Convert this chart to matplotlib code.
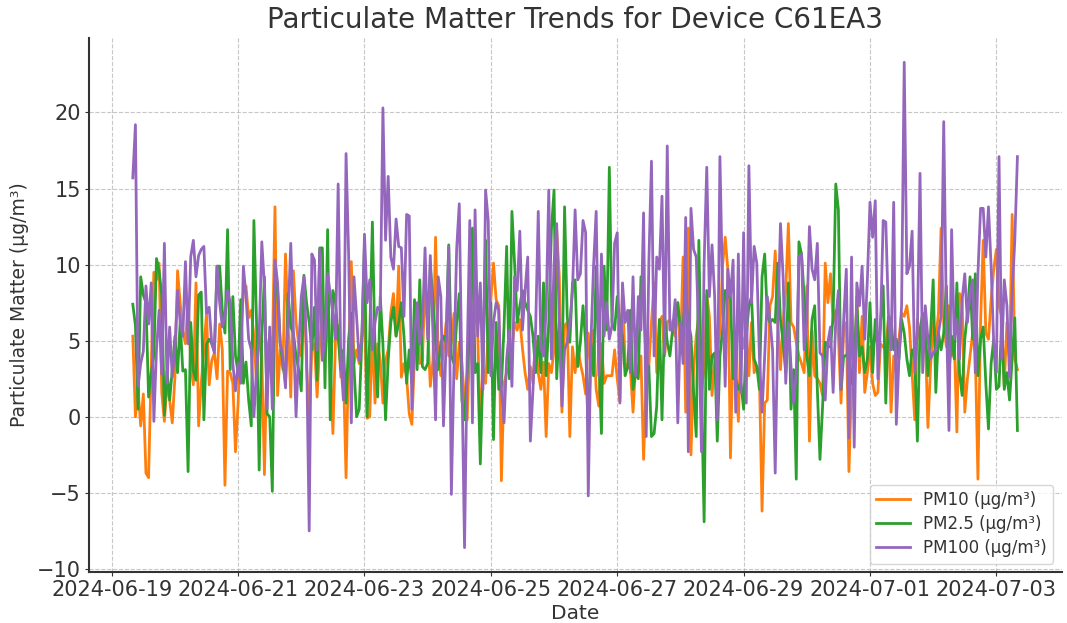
import pandas as pd
import matplotlib
matplotlib.use('Agg')
import matplotlib.pyplot as plt

# hourly readings, first sample 2024-06-19 08:00
start_time = '2024-06-19 08:00'

pm10 = [
    5.3, 0.0, 1.8, -0.6, 1.5, -3.7, -4.0, 3.3, 9.5, 9.0, 10.1, 1.6, -0.3, 2.2,
    1.1, -0.4, 2.6, 9.6, 7.5, 5.6, 4.8, 7.7, 3.5, 2.1, 8.8, -0.6, 2.2, 4.4,
    6.8, 2.1, 3.7, 4.2, 2.5, 6.1, 4.4, -4.5, 3.0, 2.9, 2.2, -2.3, 0.9, 5.5,
    8.1, 8.6, 6.5, 7.0, 5.3, 2.2, 5.5, 4.0, -3.8, 4.4, 5.3, 4.0, 13.8, 1.4, 4.4,
    3.1, 10.7, 6.2, 1.3, 9.6, 6.2, 4.8, 4.0, 9.0, 3.3, 0.0, 4.4, 4.8, 1.3,
    4.8, 6.8, 6.6, 5.9, 3.5, -1.1, 5.1, 6.0, 2.6, 3.1, -4.0, 4.4, 10.2, 3.5, 4.4,
    3.5, 5.3, 6.8, -0.1, 0.0, 5.7, 0.9, 4.8, 3.7, 0.9, 3.7, 4.4, 6.8, 8.1,
    5.3, 9.9, 2.6, 3.5, 2.6, 0.2, -0.5, 4.0, 6.6, 3.5, 3.7, 8.8, 5.9, 2.0, 3.7,
    11.8, 4.0, 2.7, 4.4, 6.2, 4.0, 4.9, 6.8, 2.5, 4.9, 3.5, 1.1, -0.2, 4.9,
    9.7, 7.0, 5.5, -0.9, 3.3, 2.2, 5.5, 7.7, 10.1, 7.7, 7.3, -4.2, 2.2, 2.9,
    3.3, 4.4, 6.2, 5.7, 6.4, 4.5, 2.9, 1.8, 3.3, 2.2, 5.0, 2.9, 1.8, 3.6, -1.3,
    3.5, 2.9, 4.4, 12.3,
    9.2, 0.3, 6.0, 6.2, -1.3, 4.6, 2.9, 4.6, 3.5, 2.7, 1.5, 5.5, 3.3, 5.7,
    1.8, 0.7, 4.8, 2.2, 2.7, 2.7, 2.7, 4.4, 2.5, 1.0, 8.3, 3.5, 3.3, 3.1, 0.3,
    3.5, 2.9, 4.0, -2.8, 2.2, 3.3, 6.2, 8.8, 2.9, 6.2, 6.6, 4.0, 6.2, 6.4, 5.7,
    5.3, 7.5, 4.2, 10.5, 0.3, 12.4, -2.5, 3.1, 5.3, 6.6, 1.8, 3.1, 8.0,
    6.6, 1.4, 3.5, 4.2, 5.7, 9.9, 11.8, 9.7, -2.7, 5.1, 2.7, -0.3, 5.7, 4.5,
    5.7, 2.7, 6.2, 2.9, 3.3, 2.7, -6.2, 0.9, 1.1, 7.3, 7.9, 10.9, 6.2, 3.1,
    6.2, 8.3, 12.7, 6.2, 5.9, 4.9, 4.0, 3.5, 2.9, 8.6, -1.6, 5.7, 2.7, 2.5,
    2.2, 1.4, 10.1, 7.5, 9.4, 6.2, 7.0, 5.3, 0.9, 5.7, 6.2, -3.6, 2.2, 1.8, 7.9,
    2.9, 6.6, 1.6, 2.9, 4.6, 2.2, 1.4, 1.6, 4.8, 4.6, 4.4, 6.4, 0.3, 4.0,
    2.9, 5.1, 6.8, 6.6, 7.3, 5.9, 2.9, -0.2, 6.4, 5.1, 4.2, 5.3, -0.7, 3.3,
    6.2, 5.1, 6.8, 12.4, 6.2, 4.6, 7.3, 4.0, 5.1, -1.0, 8.1, 7.7, 0.3, 2.5,
    4.0, 5.5, 4.2, -4.1, 6.2, 11.6, 5.5, 5.1, 7.7, 9.7, 11.0, 7.3, 6.6, 2.0,
    6.2, 3.8, 13.3, 3.8, 3.1,
]

pm25 = [
    7.4, 6.0, 0.5, 9.2, 8.0, 7.5, 1.3, 2.9, 4.0, 10.4, 9.6, 8.0, 0.1, 3.0,
    1.1, 3.1, 5.3, 2.9, 6.2, 3.0, 3.1, -3.6, 6.2, 3.0, 2.4, 8.0, 8.2, -0.2,
    4.8, 5.1, 4.8, 4.4, 9.9, 9.9, 7.0, 5.5, 12.3, 3.1, 7.9, 4.0, 2.9, 7.7,
    2.2, 3.6, 1.1, -0.6, 12.9, 6.2, -3.5, 5.3, 9.2, 0.2, 0.0, -4.9, 8.8, 8.3, 4.8,
    3.5, 2.2, 8.1, 5.9, 5.5, 4.0, 3.1, 1.7, 9.3, 7.5, 6.2, 4.4, 7.2, 2.4,
    11.1, 11.1, 1.9, 12.3, -0.2, 8.3, 7.5, 5.3, 3.1, 4.4, 0.9, 5.1, 6.8, 3.3, 0.0,
    0.5, 5.1, 11.4, 0.0, 5.3, 12.8, 4.4, 1.3, 7.9, 4.8, -0.2, 3.7, 6.2, 7.2,
    5.3, 6.2, 7.5, 5.3, 2.2, 4.4, 2.2, 7.7, 3.1, 9.0, 3.3, 3.1, 3.5, 9.9, 7.7,
    4.9, 3.1, 4.9, 5.3, 4.9, 11.3, 4.0, 3.5, 6.2, 8.1, 1.1, -0.2, 2.9, 5.5,
    12.4, 2.9, 3.5, -3.1, 3.3, 11.6, 2.9, 7.5, -1.5, 6.2, 1.8, 2.0, 5.9, 11.2,
    2.5, 13.5, 10.1, 6.2, 7.3, 8.3, 7.5, 7.0, 6.6, 5.3, 2.9, 5.3, 2.9, 8.8,
    2.7, 6.2, 12.3, 14.9, 2.5,
    6.2, 2.2, 13.8, 6.6, 4.9, 8.8, 9.0, 3.3, 4.9, 7.3, 4.9, -1.5, 4.9, 2.7,
    9.9, 4.0, -1.1, 9.9, 5.7, 16.4, 6.2, 5.7, 7.9, 6.2, 5.3, 2.7, 3.3, 7.0,
    1.8, 2.9, 2.5, 9.2, 7.5, 3.5, 3.3, -1.3, -1.1, 0.7, 6.4, -0.2, 6.6, 4.9,
    4.0, 5.7, 6.2, 7.5, 5.7, 6.2, 7.9, 6.2, 5.3, 1.6, -1.3, 11.6, 1.6, -6.9, 8.3,
    1.8, 4.0, 4.2, -1.6, 4.0, 5.7, 8.3, 7.9, 7.9, 2.5, 2.5, 1.8, 2.2, 0.5,
    5.3, 7.3, 7.9, 3.8, 3.3, 1.8, 9.2, 10.7, 6.6, 6.2, 6.4, 6.2, 10.1, 6.4,
    4.9, 2.9, 8.8, 0.5, 3.1, -4.1, 11.5, 10.7, 7.9, 4.0, 2.7, 6.4, 7.3, 1.8,
    -2.8, 0.7, 4.9, 4.6, 4.6, 6.6, 15.3, 13.6, 1.8, 4.0, 4.0, 4.4, 2.2, 3.5, 7.5,
    4.0, 4.6, 2.9, 3.8, 7.5, 2.9, 6.4, 4.4, 6.2, 8.6, 0.9, 6.6, 6.4, 4.4,
    5.1, 3.8, 6.4, 5.5, 3.8, 2.7, 4.4, 4.0, -1.6, 5.7, 6.8, 5.9, 2.7, 5.5,
    9.0, 1.6, 5.5, 4.4, 5.5, 8.6, 2.9, 5.3, 3.8, 8.8, 2.9, 1.4, 5.1, 6.8,
    9.2, 5.1, 9.4, 2.7, 5.1, 5.9, 2.2, -0.8, 3.5, 5.1, 1.8, 2.0, 6.2, 1.8,
    2.9, 1.1, 3.8, 6.5, -0.9,
]

pm100 = [
    15.7, 19.2, 2.0, 3.5, 4.3, 8.6, 6.1, 8.8, -0.3, 4.4, 7.0, 2.8, 11.4, 2.2,
    5.9, 2.6, 4.5, 8.3, 6.2, 5.3, 10.2, 4.8, 10.5, 11.6, 9.2, 10.6, 11.0, 11.2,
    6.8, 7.2, 4.8, 4.2, 9.9, 7.5, 5.9, 6.6, 8.3, 7.5, 3.5, 1.7, 3.5, 2.2,
    9.9, 7.9, 5.1, 4.4, 0.0, 3.1, 5.3, 11.5, 8.6, 0.5, 5.9, 0.5, 10.3, 8.8, 4.8,
    4.0, 1.9, 6.6, 11.4, 5.7, 0.0, 4.4, 7.9, 9.2, 4.4, -7.5, 10.7, 10.3, 4.4,
    11.0, 3.7, 5.1, 9.4, 8.1, 6.8, 5.1, 15.3, 3.7, 1.1, 17.3, 10.5, -0.4, 9.2, 6.6,
    3.7, 5.1, 12.0, 7.5, 9.0, 4.4, 6.2, 7.2, 7.0, 20.3, 11.6, 15.8, 10.5, 9.7,
    13.0, 11.2, 11.1, 6.6, 13.3, 13.2, 0.5, 5.1, 7.5, 4.8, 5.9, 11.1, 5.1, 10.6, 5.5,
    -0.2, 9.2, 7.9, -0.6, 4.9, 11.2, -5.1, 3.5, 11.0, 14.0, 2.5, -8.6, 3.8,
    12.9, -0.4, 13.6, 5.3, 8.8, 1.8, 14.9, 12.9, 2.7, 6.2, 7.5, 7.0, 1.8, -0.4,
    3.8, 5.7, 2.0, 9.2, 8.3, 12.2, 5.7, 8.3, 10.5, -1.6, 1.8, 5.7, 13.5, 4.6,
    4.0, 7.0, 14.9, 3.8, 10.1, 12.7,
    6.2, 0.7, 4.4, 4.9, 6.2, 8.3, 13.6, 9.0, 9.4, 12.9, 12.1, -5.2, 4.9, 9.9,
    13.5, 2.7, 10.7, 5.3, 7.5, 5.1, 6.0, 11.4, 12.1, 0.9, 8.8, 6.2, 7.0, 2.9,
    9.2, 2.7, 7.9, 5.7, 13.4, -1.3, 10.1, 16.8, 4.0, 10.5, 9.7, 14.5, 4.2, 17.8,
    5.7, 5.7, 7.7, -0.4, 6.2, 3.5, 13.1, -2.3, 13.7, 11.0, 10.5, 5.3, -2.3, 10.1, 16.4,
    7.9, 11.3, 7.9, -0.2, 17.1, 8.3, 2.0, 9.7, 7.9, 10.3, 0.3, 10.7, 1.6, 12.1,
    0.9, 16.5, 7.5, 11.2, 10.1, 4.0, 0.3, 4.0, 7.9, 6.4, 4.4, -3.7, 6.2, 12.7,
    9.2, 2.2, 6.2, 3.3, 0.9, 2.9, 10.5, 10.7, 4.4, 6.2, 12.5, 9.7, 9.0, 11.4,
    4.2, 4.0, 1.1, 4.9, 5.9, 1.6, 6.4, 8.3, 1.8, 6.4, 9.7, -1.4, 10.5, -2.0, 8.8,
    7.3, 9.9, 5.1, 9.0, 14.1, 11.8, 14.2, 2.5, 5.9, 12.9, 12.8, 6.8, 4.4, 14.1,
    -0.5, 3.8, 7.3, 23.3, 9.4, 9.9, 12.2, 2.9, 5.7, 16.0, 2.9, 7.3, 5.1, 3.8,
    4.2, 4.4, 5.5, 6.6, 19.4, 6.8, -0.9, 12.3, 5.1, 6.4, 3.8, 7.7, 9.4, 6.2,
    8.1, 9.0, 2.9, 9.4, 13.7, 13.7, 10.5, 13.8, 9.9, 4.8, 2.9, 17.1, 3.8, 9.0,
    7.3, 2.6, 8.1, 11.6, 17.1,
]

series_labels = ['PM10 (µg/m³)', 'PM2.5 (µg/m³)', 'PM100 (µg/m³)']
series_colors = ['#ff7f0e', '#2ca02c', '#9467bd']
tick_dates = pd.date_range('2024-06-19', '2024-07-03', freq='2D')

text_color = '#333333'

fig, ax = plt.subplots(figsize=(10.67, 6.23), dpi=100)
fig.subplots_adjust(left=0.083, right=0.995, bottom=0.082, top=0.939)

for values, label, color in zip([pm10, pm25, pm100], series_labels, series_colors):
    times = pd.date_range(start_time, periods=len(values), freq='h')
    ax.plot(times, values, color=color, linewidth=2.0, label=label)

ax.set_xticks(tick_dates)
ax.set_xticklabels([d.strftime('%Y-%m-%d') for d in tick_dates])

ax.set_title('Particulate Matter Trends for Device C61EA3', fontsize=20,
             color=text_color, pad=7)
ax.set_xlabel('Date', fontsize=14.5, color=text_color, labelpad=3)
ax.set_ylabel('Particulate Matter (µg/m³)', fontsize=13.5, color=text_color,
              labelpad=6)

ax.grid(True, linestyle='--', color='#b0b0b0', alpha=0.7, linewidth=0.8)
ax.spines['top'].set_visible(False)
ax.spines['right'].set_visible(False)
for side in ['left', 'bottom']:
    ax.spines[side].set_color(text_color)
    ax.spines[side].set_linewidth(1.5)
ax.tick_params(labelsize=15, colors=text_color, length=3, pad=2.5)

ax.legend(loc='lower right', fontsize=12, labelcolor=text_color,
          labelspacing=0.35)

fig.savefig('out.png', dpi=100)
